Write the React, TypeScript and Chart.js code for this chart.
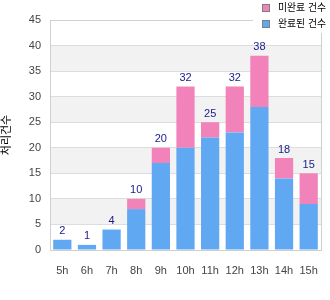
import React, { useEffect, useRef } from "react";
import { Chart, registerables } from "chart.js";

Chart.register(...registerables);

const categories = ["5h", "6h", "7h", "8h", "9h", "10h", "11h", "12h", "13h", "14h", "15h"];
const completedValues = [2, 1, 4, 8, 17, 20, 22, 23, 28, 14, 9];
const pendingValues = [0, 0, 0, 2, 3, 12, 3, 9, 10, 4, 6];
const yTicks = [0, 5, 10, 15, 20, 25, 30, 35, 40, 45];
const pendingLabel = "미완료 건수";
const completedLabel = "완료된 건수";
const yTitle = "처리건수";

const PINK = "#F283BA";
const BLUE = "#61A8F3";
const FONT = "'Liberation Sans', Arial, 'Noto Sans CJK KR', sans-serif";

const bandsPlugin = {
  id: "bands",
  beforeDraw(chart: any) {
    const { ctx, chartArea } = chart;
    const y = chart.scales.y;
    ctx.save();
    ctx.fillStyle = "#F2F2F2";
    for (let v = 5; v < 45; v += 10) {
      const top = y.getPixelForValue(v + 5);
      const bot = y.getPixelForValue(v);
      ctx.fillRect(chartArea.left, top, chartArea.right - chartArea.left, bot - top);
    }
    ctx.restore();
  },
  afterDatasetsDraw(chart: any) {
    const { ctx, chartArea } = chart;
    ctx.save();
    ctx.strokeStyle = "#D0D0D0";
    ctx.lineWidth = 1;
    ctx.beginPath();
    ctx.moveTo(chartArea.left, Math.round(chartArea.top) + 0.5);
    ctx.lineTo(Math.round(chartArea.right) + 0.5, Math.round(chartArea.top) + 0.5);
    ctx.lineTo(Math.round(chartArea.right) + 0.5, chartArea.bottom);
    ctx.stroke();
    // totals
    const meta = chart.getDatasetMeta(1);
    ctx.fillStyle = "#1A1A8C";
    ctx.font = `11px ${FONT}`;
    ctx.textAlign = "center";
    ctx.textBaseline = "bottom";
    categories.forEach((_, i) => {
      const total = completedValues[i] + pendingValues[i];
      const el = meta.data[i];
      const yPix = chart.scales.y.getPixelForValue(total);
      ctx.fillText(String(total), el.x, yPix - 3);
    });
    ctx.restore();
  },
  afterDraw(chart: any) {
    const { ctx } = chart;
    ctx.save();
    ctx.fillStyle = "#FFFFFF";
    ctx.fillRect(253, 0, 77, 33);
    const items = [
      { color: PINK, label: pendingLabel, y: 8 },
      { color: BLUE, label: completedLabel, y: 24 },
    ];
    ctx.font = `10px ${FONT}`;
    ctx.textBaseline = "middle";
    ctx.textAlign = "left";
    items.forEach((it) => {
      ctx.fillStyle = it.color;
      ctx.fillRect(263, it.y - 3, 6, 6);
      ctx.strokeStyle = "#808080";
      ctx.lineWidth = 1;
      ctx.strokeRect(262.5, it.y - 3.5, 7, 7);
      ctx.fillStyle = "#000000";
      ctx.fillText(it.label, 278, it.y, 48);
    });
    ctx.restore();
  },
};

export default function App() {
  const ref = useRef<HTMLCanvasElement>(null);
  useEffect(() => {
    document.body.style.margin = "0";
    const chart = new Chart(ref.current!, {
      type: "bar",
      data: {
        labels: categories,
        datasets: [
          {
            label: completedLabel,
            data: completedValues,
            backgroundColor: BLUE,
            barPercentage: 0.74,
            categoryPercentage: 1,
          },
          {
            label: pendingLabel,
            data: pendingValues,
            backgroundColor: PINK,
            barPercentage: 0.74,
            categoryPercentage: 1,
          },
        ],
      },
      options: {
        animation: false,
        responsive: false,
        maintainAspectRatio: false,
        layout: { padding: { top: 20, right: 9, left: 0, bottom: 0 } },
        plugins: {
          legend: { display: false },
          tooltip: { enabled: false },
        },
        scales: {
          x: {
            stacked: true,
            grid: { display: false },
            border: { color: "#D0D0D0" },
            ticks: { color: "#444", font: { family: FONT, size: 11 }, padding: 6, maxRotation: 0 },
            afterFit(scale: any) {
              scale.height = 50;
            },
          },
          y: {
            stacked: true,
            min: 0,
            max: 45,
            afterBuildTicks(scale: any) {
              scale.ticks = yTicks.map((v) => ({ value: v }));
            },
            grid: { color: "#DDDDDD", drawTicks: false },
            border: { color: "#D0D0D0" },
            ticks: { color: "#444", font: { family: FONT, size: 11 }, padding: 9 },
            title: {
              display: true,
              text: yTitle,
              color: "#000",
              font: { family: FONT, size: 11 },
              padding: 0,
            },
            afterFit(scale: any) {
              scale.width = 50;
            },
          },
        },
      },
      plugins: [bandsPlugin],
    });
    return () => chart.destroy();
  }, []);
  return (
    <div style={{ position: "absolute", left: 0, top: 0, width: 330, height: 300 }}>
      <canvas ref={ref} width={330} height={300} style={{ width: 330, height: 300 }} />
    </div>
  );
}
